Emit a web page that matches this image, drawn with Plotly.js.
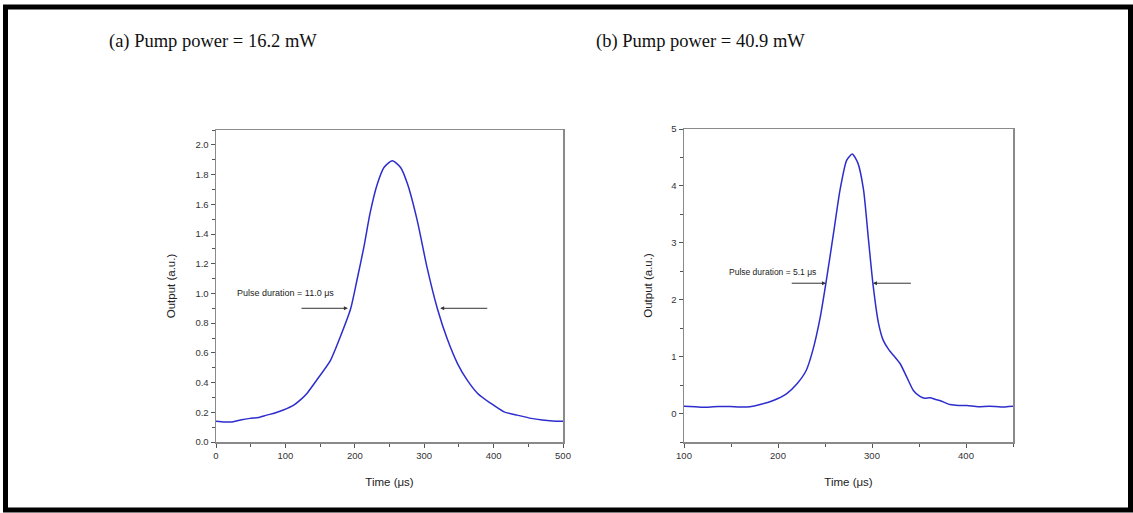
<!DOCTYPE html>
<html>
<head>
<meta charset="utf-8">
<script src="https://cdn.plot.ly/plotly-3.0.1.min.js"></script>
<style>html,body{margin:0;padding:0;background:#fff;}#chart{width:1133px;height:513px;}</style>
</head>
<body>
<div id="chart"></div>
<script>
// Panel (a): pump power 16.2 mW
const timeA = [0, 12, 25, 37, 49, 61, 73, 85, 97, 112, 122, 131, 145, 165, 179, 194, 203, 213, 222, 232, 242, 254, 266, 276, 290, 304, 319, 333, 348, 362, 377, 396, 415, 434, 454, 470, 485, 500];
const outputA = [0.14, 0.135, 0.136, 0.15, 0.159, 0.165, 0.181, 0.195, 0.215, 0.248, 0.285, 0.327, 0.416, 0.55, 0.707, 0.897, 1.087, 1.31, 1.54, 1.73, 1.848, 1.893, 1.848, 1.736, 1.49, 1.177, 0.897, 0.696, 0.528, 0.416, 0.327, 0.26, 0.203, 0.181, 0.159, 0.148, 0.142, 0.14];
// Panel (b): pump power 40.9 mW
const timeB = [100, 112, 124, 137, 149, 160, 170, 181, 195, 209, 220, 230, 237, 245, 252, 259, 266, 273, 279, 285, 291, 296, 301, 307, 312, 318, 323, 330, 337, 344, 351, 356, 362, 367, 372, 383, 392, 401, 413, 425, 437, 450];
const outputB = [0.13, 0.12, 0.11, 0.125, 0.123, 0.115, 0.12, 0.158, 0.23, 0.347, 0.52, 0.757, 1.11, 1.70, 2.40, 3.16, 3.93, 4.45, 4.56, 4.40, 3.93, 3.10, 2.28, 1.58, 1.285, 1.12, 1.02, 0.875, 0.64, 0.405, 0.30, 0.27, 0.276, 0.25, 0.23, 0.158, 0.14, 0.14, 0.12, 0.13, 0.115, 0.13];

const panelTitles = ["(a) Pump power = 16.2 mW", "(b) Pump power = 40.9 mW"];
const pulseLabels = ["Pulse duration = 11.0 \u03bcs", "Pulse duration = 5.1 \u03bcs"];
const xTitle = "Time (\u03bcs)";
const yTitle = "Output (a.u.)";

const W = 1133, H = 513;
const px = v => v / W;
const py = v => 1 - v / H;

const lineColor = "rgb(45,45,205)";
const axisCommon = {
  showline: true, linecolor: "#8a8a8a", linewidth: 1.5, mirror: true,
  ticks: "outside", ticklen: 4, tickcolor: "#555", tickwidth: 1,
  showgrid: false, zeroline: false,
  tickfont: {family: "Liberation Sans, Arial", size: 9.5, color: "#333"},
  fixedrange: true
};
const titleFont = {family: "Liberation Sans, Arial", size: 11.5, color: "#222"};

const traces = [
  {x: timeA, y: outputA, type: "scatter", mode: "lines", xaxis: "x", yaxis: "y",
   line: {color: lineColor, width: 1.5, shape: "spline", smoothing: 0.6}, hoverinfo: "skip"},
  {x: timeB, y: outputB, type: "scatter", mode: "lines", xaxis: "x2", yaxis: "y2",
   line: {color: lineColor, width: 1.5, shape: "spline", smoothing: 0.6}, hoverinfo: "skip"}
];

const layout = {
  width: W, height: H,
  margin: {l: 0, r: 0, t: 0, b: 0},
  paper_bgcolor: "#fff", plot_bgcolor: "#fff",
  showlegend: false,
  xaxis: Object.assign({}, axisCommon, {
    domain: [px(216), px(563)], range: [0, 500], dtick: 100, tick0: 0,
    minor: {dtick: 50, ticks: "outside", ticklen: 3, tickcolor: "#555"},
    anchor: "y",
    title: {text: xTitle, font: titleFont, standoff: 18}
  }),
  yaxis: Object.assign({}, axisCommon, {
    domain: [py(442), py(130)], range: [0, 2.1], dtick: 0.2, tick0: 0, tickformat: ".1f",
    minor: {dtick: 0.1, ticks: "outside", ticklen: 3, tickcolor: "#555"},
    anchor: "x",
    title: {text: yTitle, font: titleFont, standoff: 17}
  }),
  xaxis2: Object.assign({}, axisCommon, {
    domain: [px(684), px(1013)], range: [100, 450], dtick: 100, tick0: 0,
    minor: {dtick: 50, ticks: "outside", ticklen: 3, tickcolor: "#555"},
    anchor: "y2",
    title: {text: xTitle, font: titleFont, standoff: 18}
  }),
  yaxis2: Object.assign({}, axisCommon, {
    domain: [py(442), py(129)], range: [-0.5, 5], dtick: 1, tick0: 0,
    minor: {dtick: 0.5, ticks: "outside", ticklen: 3, tickcolor: "#555"},
    anchor: "x2",
    title: {text: yTitle, font: titleFont, standoff: 16}
  }),
  shapes: [
    {type: "rect", xref: "paper", yref: "paper", x0: px(5.5), x1: px(1130.5), y0: py(510), y1: py(7),
     line: {color: "#000", width: 5}, fillcolor: "rgba(0,0,0,0)"}
  ],
  annotations: [
    {text: panelTitles[0], xref: "paper", yref: "paper", x: px(107), y: py(41), xanchor: "left", yanchor: "middle",
     showarrow: false, font: {family: "Liberation Serif, Times New Roman", size: 18.5, color: "#111"}},
    {text: panelTitles[1], xref: "paper", yref: "paper", x: px(594), y: py(41), xanchor: "left", yanchor: "middle",
     showarrow: false, font: {family: "Liberation Serif, Times New Roman", size: 18.5, color: "#111"}},
    {text: pulseLabels[0], xref: "x", yref: "y", x: 27, y: 1.0, xanchor: "left", yanchor: "middle",
     showarrow: false, font: {family: "Liberation Sans, Arial", size: 9, color: "#222"}},
    {text: pulseLabels[1], xref: "x2", yref: "y2", x: 146, y: 2.48, xanchor: "left", yanchor: "middle",
     showarrow: false, font: {family: "Liberation Sans, Arial", size: 8.5, color: "#222"}},
    {text: "", xref: "x", yref: "y", x: 190, y: 0.9, axref: "x", ayref: "y", ax: 121, ay: 0.9,
     showarrow: true, arrowhead: 2, arrowsize: 0.8, arrowwidth: 1, arrowcolor: "#333"},
    {text: "", xref: "x", yref: "y", x: 323, y: 0.9, axref: "x", ayref: "y", ax: 393, ay: 0.9,
     showarrow: true, arrowhead: 2, arrowsize: 0.8, arrowwidth: 1, arrowcolor: "#333"},
    {text: "", xref: "x2", yref: "y2", x: 251, y: 2.29, axref: "x2", ayref: "y2", ax: 213, ay: 2.29,
     showarrow: true, arrowhead: 2, arrowsize: 0.8, arrowwidth: 1, arrowcolor: "#333"},
    {text: "", xref: "x2", yref: "y2", x: 301, y: 2.29, axref: "x2", ayref: "y2", ax: 343, ay: 2.29,
     showarrow: true, arrowhead: 2, arrowsize: 0.8, arrowwidth: 1, arrowcolor: "#333"}
  ]
};

Plotly.newPlot("chart", traces, layout, {displayModeBar: false, staticPlot: true});
</script>
</body>
</html>
